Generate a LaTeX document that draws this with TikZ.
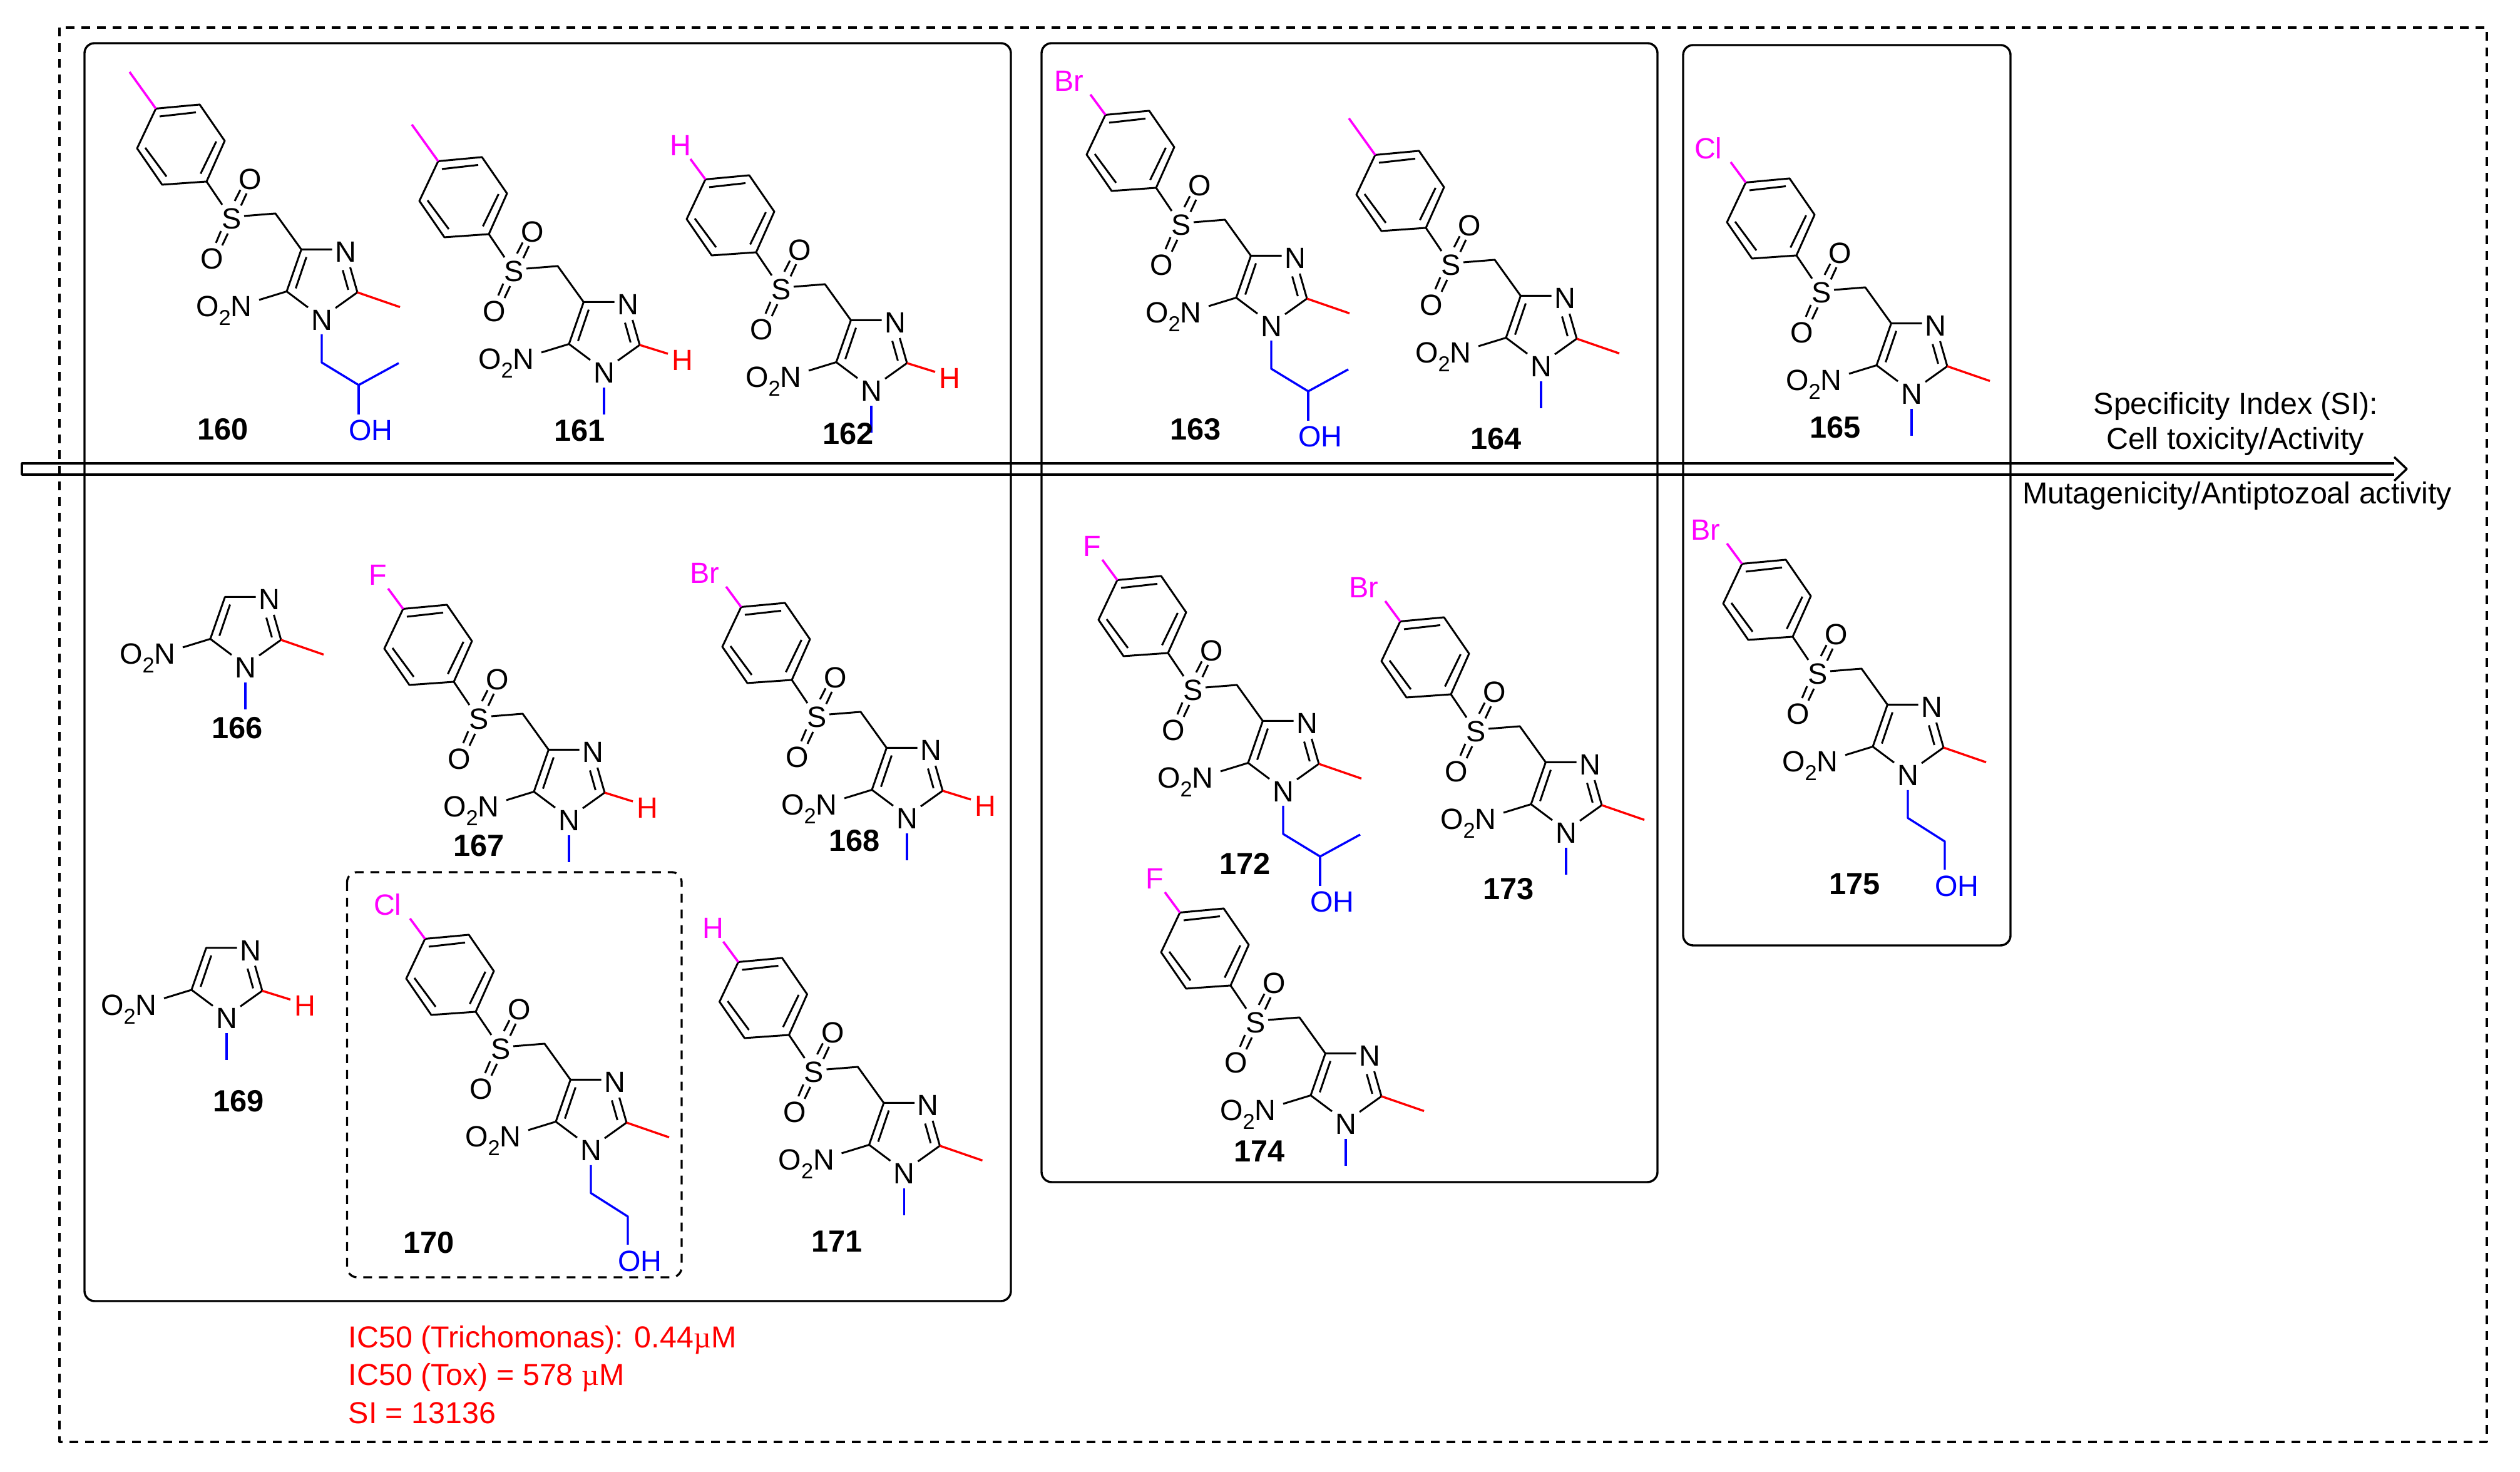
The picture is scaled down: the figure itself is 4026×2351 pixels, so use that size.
\documentclass[tikz,border=0pt]{standalone}
\usepackage{fontspec}
\setmainfont{Liberation Sans}
\newfontfamily\mufont{Liberation Serif}
\usetikzlibrary{arrows.meta, positioning}
\definecolor{halomagenta}{RGB}{255,0,255}
\definecolor{sitered}{RGB}{255,0,0}
\definecolor{chainblue}{RGB}{0,0,255}
\tikzset{bond/.style={line width=0.75pt},
parabond/.style={line width=0.9pt, color=halomagenta},
sitebond/.style={line width=0.85pt, color=sitered},
chainbond/.style={line width=0.85pt, color=chainblue},
atomlabel/.style={inner sep=0pt, font=\fontsize{11.7}{12}\selectfont},
idlabel/.style={inner sep=0pt, font=\fontsize{12.2}{13}\selectfont\bfseries},
notelabel/.style={inner sep=0pt, font=\fontsize{12.1}{14}\selectfont},
panel/.style={line width=0.85pt, rounded corners=4pt},
dashpanel/.style={line width=0.83pt, rounded corners=4pt, dash pattern=on 3.5pt off 2.75pt},
trendline/.style={line width=0.875pt}}
\newcommand{\subtwo}{\raisebox{-0.3em}{\fontsize{8.6}{9}\selectfont 2}}
% Groups on C2
\newcommand{\cmethyl}{\draw[sitebond] (57,44) -- (125,20.5);}
\newcommand{\chydro}{
    \draw[sitebond] (57,44) -- (102,30);
    \node[atomlabel, text=sitered] (h\molid) at (125,20) {H};}
% Groups on N1
\newcommand{\nmethyl}{\draw[chainbond] (0,-24) -- (0,-67);}
\newcommand{\npropanol}{
    \draw[chainbond] (0,-23) -- (0,-68) -- (59,-104) -- (123,-69);
    \draw[chainbond] (59,-104) -- (59,-151);
    \node[atomlabel, text=chainblue, anchor=west] (oh\molid) at (42.4,-176) {OH};}
\newcommand{\nethanol}{
    \draw[chainbond] (0,-24) -- (0,-68.5) -- (59,-106) -- (59,-151);
    \node[atomlabel, text=chainblue, anchor=west] (oh\molid) at (42.4,-177) {OH};}
% Groups on the benzene ring
\newcommand{\pmethyl}{\draw[parabond] (-265,337.5) -- (-307,396);}
\newcommand{\phalo}[2]{
    \draw[parabond] (-265,337.5) -- (-289,370);
    \node[atomlabel, text=halomagenta, anchor=east] (x\molid) at (#2,392) {#1};}
% Nitroimidazole
\newcommand{\imidazole}[5]{
    \begin{scope}[shift={(#2,2351-#3)}]
        \def\molid{#1}
        \node[atomlabel] (na\molid) at (0,0) {N};
        \node[atomlabel] (nb\molid) at (38,108.5) {N};
        \node[atomlabel, anchor=base east] (no\molid) at (-110.7,5.4) {O\subtwo N};
        \draw[bond] (-100,32) -- (-56,45.5) -- (-22,20);
        \draw[bond] (-56,45.5) -- (-32.6,112.5) -- (16.5,112.5);
        \draw[bond] (-41.5,50.4) -- (-24.5,100.4);
        \draw[bond] (22,19) -- (57,44) -- (45.5,84);
        \draw[bond] (42.4,48) -- (33.5,79.5);
        #4
        #5
    \end{scope}
}
% Aryl sulfonyl methyl on C4
\newcommand{\tosyl}[4]{
    \begin{scope}[shift={(#2,2351-#3)}]
        \def\molid{#1}
        \node[atomlabel] (s\molid) at (-144,162) {S};
        \node[atomlabel] (oa\molid) at (-114,225) {O};
        \node[atomlabel] (ob\molid) at (-175,98) {O};
        \draw[bond] (-32.6,112.5) -- (-74,170) -- (-124,166);
        \draw[bond] (-159,184) -- (-184,221);
        \draw[bond] (-139,190) -- (-130,207.6);
        \draw[bond] (-129,182.6) -- (-120,202);
        \draw[bond] (-169,123) -- (-161,142);
        \draw[bond] (-159,119) -- (-150,138);
        \draw[bond] (-184,221) -- (-255,216) -- (-295,274) -- (-265,337.5) -- (-195,344) -- (-155,286) -- cycle;
        \draw[bond] (-259,325) -- (-201,331.5);
        \draw[bond] (-168.5,285) -- (-193.5,233.5);
        \draw[bond] (-282,275) -- (-248,229);
        #4
    \end{scope}
}
\begin{document}
\begin{tikzpicture}[x=0.25pt, y=0.25pt, line join=bevel]
    \useasboundingbox (0,0) rectangle (4026,2351);
    % Frames
    \draw[dashpanel, rounded corners=0pt] (95,2351-44) rectangle (3973,2351-2303);
    \draw[panel] (135,2351-69) rectangle (1615,2351-2078);
    \draw[panel] (1664,2351-69) rectangle (2648,2351-1888);
    \draw[panel] (2689,2351-72) rectangle (3212,2351-1510);
    \draw[dashpanel] (554.5,2351-1393) rectangle (1089,2351-2040);
    % Compounds
    \foreach \id/\nx/\ny/\ctwo/\nsub/\para in {
        160/514/511/\cmethyl/\npropanol/\pmethyl,
        161/965/595/\chydro/\nmethyl/\pmethyl,
        162/1392/624/\chydro/\nmethyl/{\phalo{H}{-287}},
        163/2031/521/\cmethyl/\npropanol/{\phalo{Br}{-299}},
        164/2462/585/\cmethyl/\nmethyl/\pmethyl,
        165/3054/629/\cmethyl/\nmethyl/{\phalo{Cl}{-302}},
        167/909/1310/\chydro/\nmethyl/{\phalo{F}{-290}},
        168/1449/1307/\chydro/\nmethyl/{\phalo{Br}{-299}},
        170/944/1837/\cmethyl/\nethanol/{\phalo{Cl}{-302}},
        171/1444.5/1874/\cmethyl/\nmethyl/{\phalo{H}{-287}},
        172/2050/1264/\cmethyl/\npropanol/{\phalo{F}{-290}},
        173/2502/1330/\cmethyl/\nmethyl/{\phalo{Br}{-299}},
        174/2150/1795/\cmethyl/\nmethyl/{\phalo{F}{-290}},
        175/3048/1238/\cmethyl/\nethanol/{\phalo{Br}{-299}}} {
        \imidazole{\id}{\nx}{\ny}{\ctwo}{\nsub}
        \tosyl{\id}{\nx}{\ny}{\para}
    }
    \imidazole{166}{392}{1066}{\cmethyl}{\nmethyl}
    \imidazole{169}{362}{1626.5}{\chydro}{\nmethyl}
    % Compound numbers
    \foreach \id/\lx/\ly in {
        160/356/686, 161/926/688, 162/1355/693, 163/1910/686,
        164/2390/701, 165/2932/683, 166/379/1163, 167/765/1351,
        168/1365/1343, 169/381/1759, 170/685/1985, 171/1337/1983,
        172/1989/1379, 173/2410/1420, 174/2012/1839, 175/2963/1412} {
        \node[idlabel] (lab\id) at (\lx,2351-\ly) {\id};
    }
    % Trend arrow
    \coordinate (trendupper) at (3825,2351-740);
    \coordinate (trendlower) at (3825,2351-758);
    \coordinate (trendtail) at (35,2351-749);
    \coordinate (trendtip) at (3845,2351-749);
    \draw[trendline] (trendupper) -- (trendupper -| trendtail) -- (trendlower -| trendtail) -- (trendlower);
    \draw[trendline] (3825,2351-730) -- (trendtip) -- (3825,2351-768);
    \node[notelabel, anchor=base] (sitext) at (3572,2351-662) {Specificity Index (SI):};
    \node[notelabel, anchor=base] (celltext) at (3571,2351-718) {Cell toxicity/Activity};
    \node[notelabel, anchor=base] (mutatext) at (3574,2351-805) {Mutagenicity/Antiptozoal activity};
    % Best compound
    \node[notelabel, text=sitered, anchor=base west] (ictrich) at (556,2351-2153) {IC50 (Trichomonas): 0.44{\mufont µ}M};
    \node[notelabel, text=sitered, anchor=base west] (ictox) at (556,2351-2213) {IC50 (Tox) = 578 {\mufont µ}M};
    \node[notelabel, text=sitered, anchor=base west] (sival) at (556,2351-2274) {SI = 13136};
\end{tikzpicture}
\end{document}
